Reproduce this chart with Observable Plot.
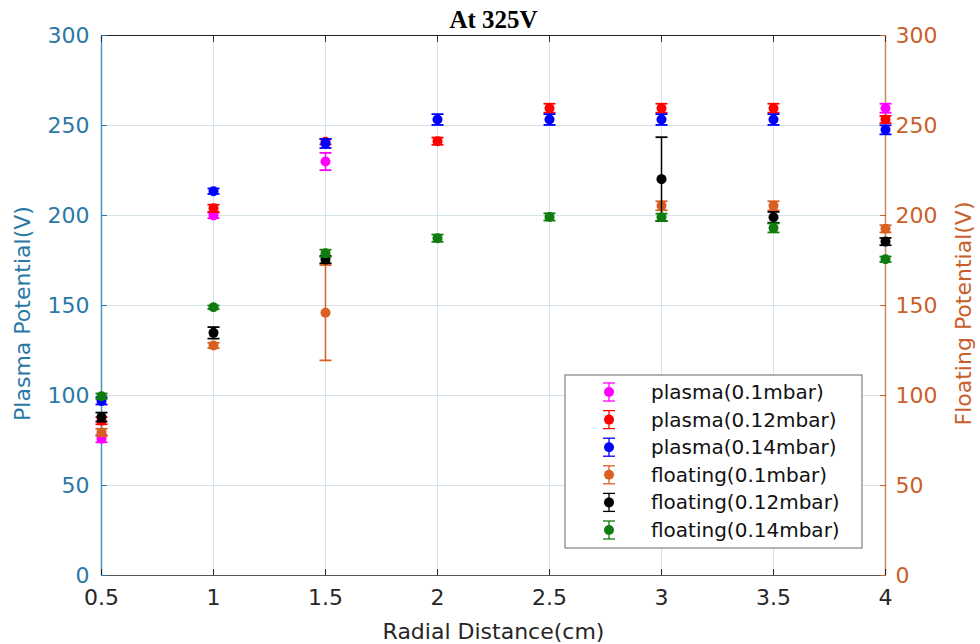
<!DOCTYPE html>
<html>
<head>
<meta charset="utf-8">
<script src="https://cdn.jsdelivr.net/npm/d3@7"></script>
<script src="https://cdn.jsdelivr.net/npm/@observablehq/plot@0.6"></script>
<style>
  html, body { margin: 0; padding: 0; background: #fff; }
  #chart { width: 980px; height: 644px; }
</style>
</head>
<body>
<div id="chart"></div>
<script>
// ---- data ----
const title = "At 325V";
const xLabel = "Radial Distance(cm)";
const yLabelLeft = "Plasma Potential(V)";
const yLabelRight = "Floating Potential(V)";
const xTicks = [0.5, 1, 1.5, 2, 2.5, 3, 3.5, 4];
const yTicks = [0, 50, 100, 150, 200, 250, 300];
const radial = [0.5, 1, 1.5, 2, 2.5, 3, 3.5, 4];

const seriesNames = ["plasma(0.1mbar)", "plasma(0.12mbar)", "plasma(0.14mbar)",
                     "floating(0.1mbar)", "floating(0.12mbar)", "floating(0.14mbar)"];
const seriesColors = ["#ff00ff", "#ff0000", "#0000ff", "#d95f22", "#000000", "#107c10"];

const plasma01     = [76,   200,   230,   null,  null,  null,  null,  259.6];
const plasma01Err  = [2,    1.5,   4.8,   null,  null,  null,  null,  2.5];
const plasma012    = [86,   204,   241,   241.3, 259.6, 259.6, 259.6, 253.3];
const plasma012Err = [2,    2,     1.5,   2,     2.5,   2.5,   2.5,   2];
const plasma014    = [97,   213.5, 240,   253.3, 253.3, 253.3, 253.3, 247.6];
const plasma014Err = [2,    1.5,   2.5,   3,     3,     3,     3,     2.5];
const float01      = [79.5, 127.8, 146,   null,  null,  205.4, 205.4, 192.6];
const float01Err   = [2,    1.5,   26.5,  null,  null,  2.5,   2.5,   2];
const float012     = [88,   134.8, 175.5, null,  null,  220.2, 199,   185.5];
const float012Err  = [2.5,  3.2,   2,     null,  null,  23.3,  3,     2];
const float014     = [99.6, 149,   179,   187.4, 199.2, 199,   193.1, 175.7];
const float014Err  = [1.5,  1,     2,     2,     2,     2,     2.5,   1.5];

const seriesValues = [plasma01, plasma012, plasma014, float01, float012, float014];
const seriesErrors = [plasma01Err, plasma012Err, plasma014Err, float01Err, float012Err, float014Err];

// ---- build tables ----
const seriesRows = seriesNames.map((name, s) =>
  radial.map((x, i) => ({name, x, y: seriesValues[s][i], e: seriesErrors[s][i]}))
        .filter(d => d.y != null));

// custom symbol: horizontal cap
const capSymbol = { draw(context, size) { const w = 6; context.moveTo(-w, 0); context.lineTo(w, 0); } };

const leftColor = "#2a78a6";
const leftAxisLine = "#4d95bd";
const rightColor = "#c9602a";
const textGray = "#262626";
const gridColor = "#d6e3eb";

const seriesMarks = seriesRows.flatMap((rows, s) => {
  const c = seriesColors[s];
  return [
    Plot.ruleX(rows, {x: "x", y1: d => d.y - d.e, y2: d => d.y + d.e, stroke: c, strokeWidth: 1.5}),
    Plot.dot(rows, {x: "x", y: d => d.y - d.e, symbol: capSymbol, stroke: c, strokeWidth: 1.8, r: 6}),
    Plot.dot(rows, {x: "x", y: d => d.y + d.e, symbol: capSymbol, stroke: c, strokeWidth: 1.8, r: 6}),
    Plot.dot(rows, {x: "x", y: "y", r: 5, fill: c, stroke: null})
  ];
});

const plot = Plot.plot({
  width: 980,
  height: 644,
  marginLeft: 101,
  marginRight: 95,
  marginTop: 35,
  marginBottom: 69,
  style: {fontFamily: "DejaVu Sans", fontSize: "22px", background: "#fff", overflow: "visible"},
  x: {domain: [0.5, 4]},
  y: {domain: [0, 300]},
  marks: [
    Plot.gridX(xTicks, {stroke: gridColor, strokeOpacity: 1, strokeWidth: 1}),
    Plot.gridY(yTicks, {stroke: gridColor, strokeOpacity: 1, strokeWidth: 1}),
    // frame lines
    Plot.ruleY([300], {stroke: "#222", strokeWidth: 1.2}),
    Plot.ruleY([0], {stroke: "#555", strokeWidth: 1.2}),
    Plot.ruleX([0.5], {stroke: leftAxisLine, strokeWidth: 1.5}),
    Plot.ruleX([4], {stroke: "#c88a66", strokeWidth: 1.5}),
    // axes
    Plot.axisX({anchor: "bottom", ticks: xTicks, tickSize: -6, tickPadding: 20, tickFormat: d => String(d), color: textGray, label: null}),
    Plot.axisX({anchor: "top", ticks: xTicks, tickSize: -6, tickFormat: () => "", color: "#333", label: null}),
    Plot.axisY({anchor: "left", ticks: yTicks, tickSize: -6, tickPadding: 18, color: leftColor, label: null}),
    Plot.axisY({anchor: "right", ticks: yTicks, tickSize: -6, tickPadding: 16, color: rightColor, label: null}),
    // labels
    Plot.text([title], {frameAnchor: "top", lineAnchor: "bottom", dy: -8, fontFamily: "Liberation Serif", fontWeight: "bold", fontSize: 25, fill: "#000"}),
    Plot.text([xLabel], {frameAnchor: "bottom", lineAnchor: "bottom", dy: 63, fill: textGray, fontSize: 22}),
    Plot.text([yLabelLeft], {frameAnchor: "left", textAnchor: "middle", dx: -79, dy: 8, rotate: -90, fill: leftColor, fontSize: 22}),
    Plot.text([yLabelRight], {frameAnchor: "right", textAnchor: "middle", dx: 78, dy: 8, rotate: -90, fill: rightColor, fontSize: 22}),
    ...seriesMarks
  ]
});

document.getElementById("chart").appendChild(plot);

// ---- legend (inside SVG) ----
const svg = d3.select(plot);
const lg = svg.append("g").attr("class", "legend").attr("text-anchor", "start");
const boxX = 565, boxY = 375, boxW = 297, boxH = 173, rowH = 27.6;
lg.append("rect").attr("x", boxX).attr("y", boxY).attr("width", boxW).attr("height", boxH)
  .attr("fill", "#fff").attr("stroke", "#808080").attr("stroke-width", 1.2);
seriesNames.forEach((name, i) => {
  const cy = boxY + 17 + i * rowH;
  const cx = boxX + 44;
  const c = seriesColors[i];
  const h = 9;
  const g = lg.append("g");
  g.append("line").attr("x1", cx).attr("x2", cx).attr("y1", cy - h).attr("y2", cy + h).attr("stroke", c).attr("stroke-width", 1.3);
  g.append("line").attr("x1", cx - 6).attr("x2", cx + 6).attr("y1", cy - h).attr("y2", cy - h).attr("stroke", c).attr("stroke-width", 1.3);
  g.append("line").attr("x1", cx - 6).attr("x2", cx + 6).attr("y1", cy + h).attr("y2", cy + h).attr("stroke", c).attr("stroke-width", 1.3);
  g.append("circle").attr("cx", cx).attr("cy", cy).attr("r", 5).attr("fill", c);
  g.append("text").attr("x", boxX + 86).attr("y", cy).attr("dy", "0.35em").attr("text-anchor", "start")
    .attr("font-family", "DejaVu Sans").attr("font-size", 20).attr("fill", "#111").text(name);
});
</script>
</body>
</html>
